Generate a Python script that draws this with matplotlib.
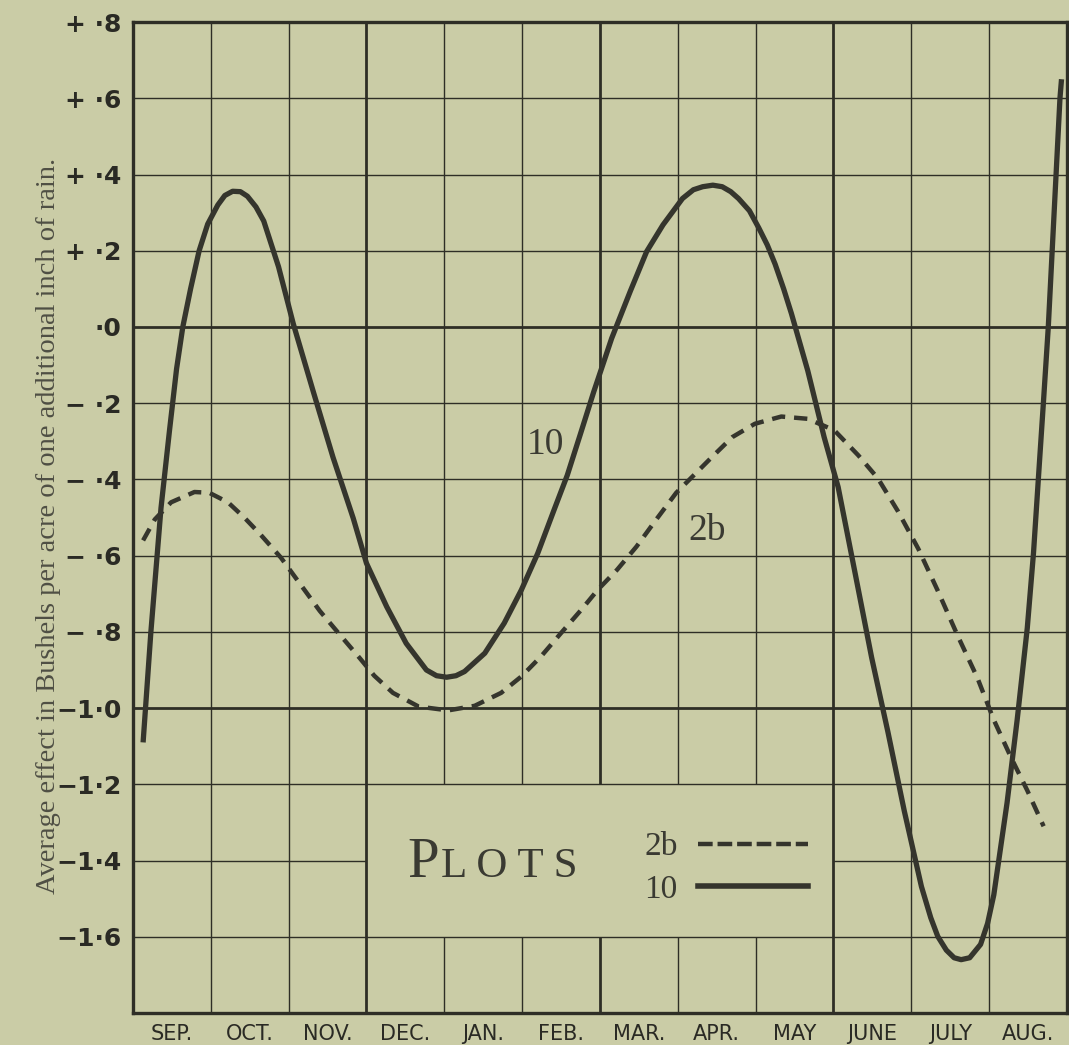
"""Seasonal effect of extra rain on yield, plots 2b and 10."""

import matplotlib.pyplot as plt
import numpy as np
from matplotlib.lines import Line2D

BG = "#cacca6"
INK = "#2e2e26"
CURVE = "#35352d"
TEXT = "#3a3a32"

months = ["SEP.", "OCT.", "NOV.", "DEC.", "JAN.", "FEB.", "MAR.", "APR.",
          "MAY", "JUNE", "JULY", "AUG."]
y_ticks = [0.8, 0.6, 0.4, 0.2, 0.0, -0.2, -0.4, -0.6, -0.8, -1.0, -1.2, -1.4, -1.6]
y_tick_labels = ["+ ·8", "+ ·6", "+ ·4", "+ ·2", "·0", "− ·2", "− ·4", "− ·6",
                 "− ·8", "−1·0", "−1·2", "−1·4", "−1·6"]

# months counted from the start of September
plot10_x = [0.13, 0.23, 0.36, 0.47, 0.56, 0.64, 0.74, 0.85, 0.96, 1.09, 1.18, 1.28,
            1.38, 1.47, 1.58, 1.68, 1.87, 2.06, 2.32, 2.57, 2.83, 3.00, 3.26, 3.51,
            3.77, 3.90, 4.03, 4.15, 4.26, 4.52, 4.77, 4.99, 5.20, 5.41, 5.58, 5.75,
            5.92, 6.15, 6.39, 6.60, 6.81, 7.06, 7.20, 7.32, 7.45, 7.57, 7.68, 7.78,
            7.92, 8.04, 8.15, 8.25, 8.36, 8.46, 8.67, 8.88, 9.06, 9.28, 9.49, 9.70,
            9.91, 10.13, 10.25, 10.34, 10.45, 10.55, 10.64, 10.75, 10.89, 10.98, 11.06,
            11.23, 11.36, 11.49, 11.57, 11.64, 11.70, 11.76, 11.81, 11.86, 11.91, 11.93]
plot10_y = [-1.09, -0.80, -0.475, -0.27, -0.11, 0.0, 0.10, 0.20, 0.27, 0.32, 0.345, 0.356,
            0.355, 0.343, 0.315, 0.278, 0.158, 0.008, -0.172, -0.342, -0.502, -0.62, -0.734, -0.83,
            -0.90, -0.915, -0.919, -0.915, -0.904, -0.856, -0.777, -0.69, -0.594, -0.48, -0.389, -0.28,
            -0.17, -0.03, 0.094, 0.198, 0.268, 0.337, 0.36, 0.368, 0.372, 0.368, 0.355, 0.337,
            0.305, 0.26, 0.215, 0.165, 0.10, 0.035, -0.115, -0.289, -0.42, -0.648, -0.867, -1.063,
            -1.27, -1.468, -1.55, -1.599, -1.635, -1.655, -1.66, -1.655, -1.62, -1.565, -1.49,
            -1.249, -1.031, -0.79, -0.593, -0.375, -0.19, 0.0, 0.2, 0.4, 0.6, 0.65]

plot2b_x = [0.13, 0.28, 0.49, 0.79, 0.98, 1.22, 1.43, 1.64, 1.90, 2.15, 2.40, 2.66,
            2.91, 3.10, 3.34, 3.67, 4.05, 4.39, 4.73, 4.99, 5.24, 5.50, 5.76, 5.97,
            6.22, 6.47, 6.72, 6.98, 7.23, 7.44, 7.70, 7.99, 8.33, 8.67, 9.01, 9.32,
            9.57, 9.83, 10.09, 10.34, 10.60, 10.85, 11.06, 11.28, 11.49, 11.70]
plot2b_y = [-0.56, -0.505, -0.46, -0.433, -0.435, -0.46, -0.50, -0.545, -0.605, -0.675, -0.745, -0.808,
            -0.868, -0.915, -0.96, -0.996, -1.006, -0.994, -0.96, -0.917, -0.865, -0.803, -0.742, -0.69,
            -0.637, -0.576, -0.506, -0.435, -0.384, -0.341, -0.289, -0.254, -0.235, -0.241, -0.271, -0.337,
            -0.397, -0.484, -0.582, -0.692, -0.812, -0.921, -1.031, -1.129, -1.216, -1.31]


def draw_grid(ax):
    """Graph-paper grid with a clear box left for the key."""
    line = dict(color=INK, zorder=1)
    for i in range(1, 12):
        lw = 2.0 if i % 3 == 0 else 1.0
        if 3 < i < 9:
            ax.vlines(i, -1.8, -1.6, lw=lw, **line)
            ax.vlines(i, -1.2, 0.8, lw=lw, **line)
        else:
            ax.vlines(i, -1.8, 0.8, lw=lw, **line)
    for v in y_ticks[1:]:
        lw = 2.0 if abs(v) < 1e-9 or abs(v + 1.0) < 1e-9 else 1.0
        if abs(v + 1.4) < 1e-9:
            ax.hlines(v, 0, 3, lw=lw, **line)
            ax.hlines(v, 9, 12, lw=lw, **line)
        else:
            ax.hlines(v, 0, 12, lw=lw, **line)


def main():
    fig = plt.figure(figsize=(10.69, 10.45), dpi=100, facecolor=BG)
    ax = fig.add_axes([0.1244, 0.0306, 0.8737, 0.9483], facecolor=BG)
    ax.set_xlim(0, 12)
    ax.set_ylim(-1.8, 0.8)
    draw_grid(ax)

    ax.plot(plot10_x, plot10_y, color=CURVE, lw=3.8, solid_joinstyle="round",
            solid_capstyle="butt", zorder=3)
    ax.plot(plot2b_x, plot2b_y, color=CURVE, lw=3.2, ls=(0, (3, 2)), zorder=3)

    serif = "Liberation Serif"
    ax.text(5.3, -0.31, "10", fontsize=27, family=serif, color=TEXT,
            ha="center", va="center", zorder=4)
    ax.text(7.38, -0.535, "2b", fontsize=27, family=serif, color=TEXT,
            ha="center", va="center", zorder=4)

    ax.text(3.93, -1.443, "P", fontsize=41, family=serif, color=TEXT,
            ha="right", va="baseline")
    ax.text(3.96, -1.443, "L O T S", fontsize=31, family=serif,
            color=TEXT, ha="left", va="baseline")

    handles = [Line2D([], [], color=CURVE, lw=3.2, ls=(0, (3.3, 1.1))),
               Line2D([], [], color=CURVE, lw=4)]
    ax.legend(handles, ["2b", "10"], loc="center left", bbox_to_anchor=(6.57, -1.42),
              bbox_transform=ax.transData, frameon=False, markerfirst=False,
              handlelength=3.3, handletextpad=0.6, labelspacing=0.35, borderpad=0,
              borderaxespad=0, prop=dict(family=serif, size=24), labelcolor=TEXT)

    for side in ["top", "bottom", "left", "right"]:
        ax.spines[side].set_linewidth(2.4)
        ax.spines[side].set_color(INK)
        ax.spines[side].set_zorder(5)

    ax.set_xticks(np.arange(12) + 0.5)
    ax.set_xticklabels(months, family="DejaVu Sans", fontsize=15, color="#2a2a24")
    ax.set_yticks(y_ticks)
    ax.set_yticklabels(y_tick_labels, family="DejaVu Sans", fontsize=18,
                       color="#2a2a24", fontweight="bold")
    ax.tick_params(length=0, pad=8)

    fig.text(0.045, 0.497, "Average effect in Bushels per acre of one additional inch of rain.",
             rotation=90, ha="center", va="center", family=serif, fontsize=20.5,
             color="#4f4f44")

    fig.savefig("out.png", dpi=100, facecolor=BG)
    plt.close(fig)


if __name__ == "__main__":
    main()
